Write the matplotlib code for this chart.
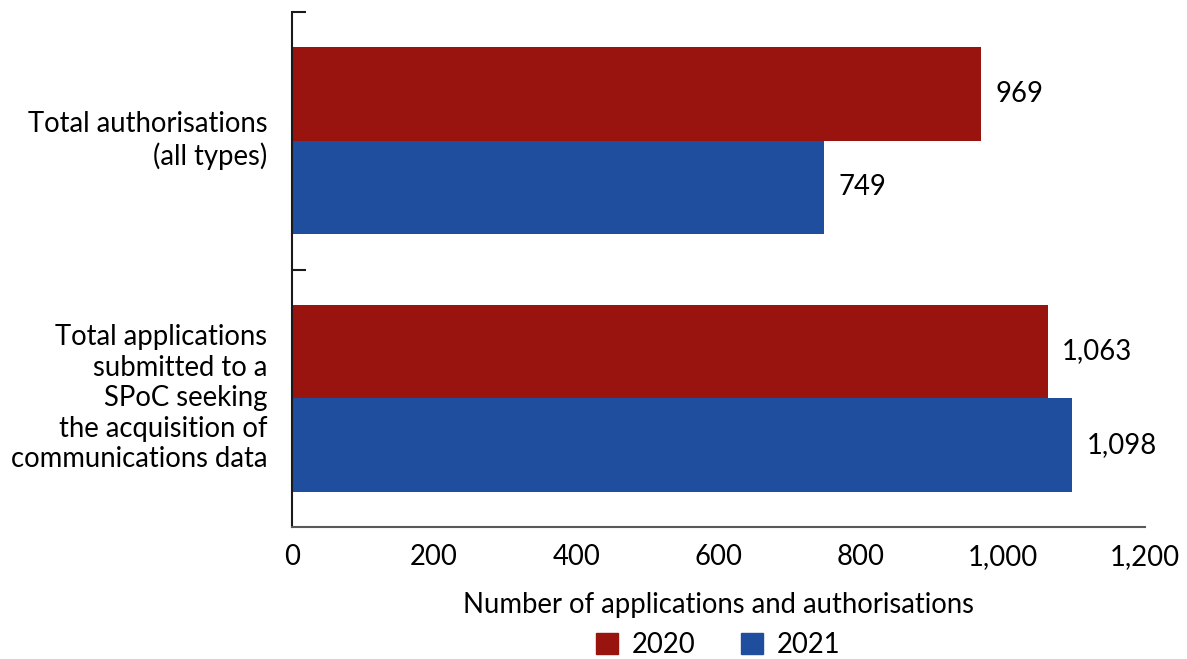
import matplotlib
matplotlib.use("Agg")
import matplotlib.pyplot as plt
from matplotlib.patches import Patch

categories = ["Total authorisations\n(all types)",
              "Total applications\nsubmitted to a\nSPoC seeking\nthe acquisition of\ncommunications data"]
series_names = ["2020", "2021"]
values_2020 = [969, 1063]
values_2021 = [749, 1098]
xticks = [0, 200, 400, 600, 800, 1000, 1200]
xtick_labels = ["0", "200", "400", "600", "800", "1,000", "1,200"]

RED = "#99140F"
BLUE = "#1F4E9E"
FONT = "Lato"
FS = 19.8

plt.rcParams['font.family'] = [FONT, 'DejaVu Sans']

fig = plt.figure(figsize=(11.87, 6.59), dpi=100)
ax = fig.add_axes([292/1187, 1-527/659, (1145-292)/1187, (527-12)/659])

centers = [1.5, 0.5]
h = 0.363
for i, c in enumerate(centers):
    ax.barh(c + h/2, values_2020[i], height=h, color=RED)
    ax.barh(c - h/2, values_2021[i], height=h, color=BLUE)
    for v, y in ((values_2020[i], c + h/2), (values_2021[i], c - h/2)):
        ax.annotate(f"{v:,}", (v, y), xytext=(10.5, 0), textcoords="offset points",
                    ha="left", va="center", fontsize=FS, color="black")

ax.set_xlim(0, 1200)
ax.set_ylim(0, 2)
ax.set_xticks(xticks)
ax.set_xticklabels(xtick_labels, fontsize=FS)
ax.tick_params(axis='x', length=0, pad=12)
ax.set_yticks([1, 2])
ax.set_yticklabels([])
ax.tick_params(axis='y', direction='in', length=10, width=1.5, color="#1a1a1a")

for c, lab in zip(centers, categories):
    ax.text(-0.029, c, lab, transform=ax.get_yaxis_transform(), ha="right", va="center",
            fontsize=FS, multialignment="right", linespacing=1.22)

ax.spines['top'].set_visible(False)
ax.spines['right'].set_visible(False)
ax.spines['left'].set_color("#1a1a1a")
ax.spines['left'].set_linewidth(1.5)
ax.spines['bottom'].set_color("#595959")
ax.spines['bottom'].set_linewidth(1.5)

ax.set_xlabel("Number of applications and authorisations", fontsize=FS, labelpad=16)

handles = [Patch(color=RED, label="2020"), Patch(color=BLUE, label="2021")]
fig.legend(handles=handles, loc="center", bbox_to_anchor=(718/1187, 1-645/659), ncol=2,
           frameon=False, fontsize=FS, handlelength=0.8, handleheight=0.8,
           handletextpad=0.5, columnspacing=1.65)

fig.savefig("out.png", dpi=100)
